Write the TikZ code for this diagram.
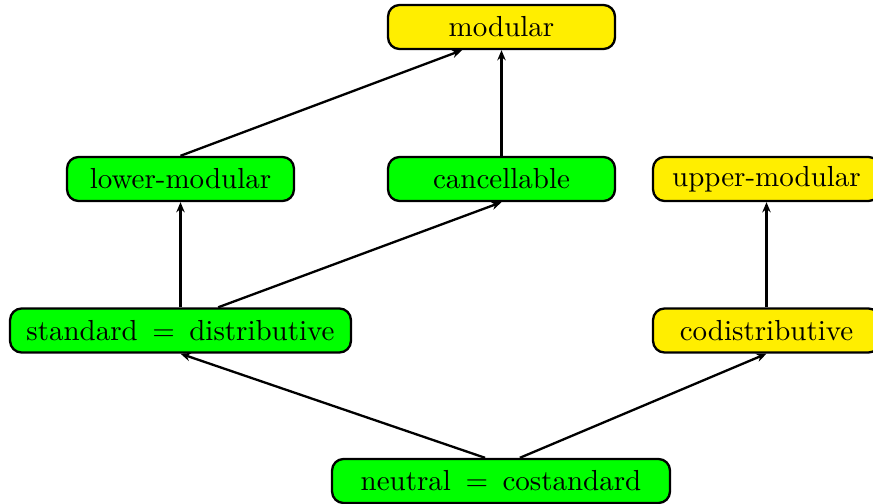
\documentclass[tikz,border=0pt]{standalone}
\usetikzlibrary{arrows.meta}
\definecolor{nodeyellow}{RGB}{255,238,0}
\definecolor{nodegreen}{RGB}{0,255,0}
\tikzset{
  box/.style={draw=black, line width=0.8pt, rounded corners=4pt, minimum height=15.2pt, minimum width=78.3pt, inner sep=0pt, font=\normalsize},
  ybox/.style={box, fill=nodeyellow},
  gbox/.style={box, fill=nodegreen},
  conn/.style={line width=0.8pt, -{Stealth[length=3.5pt,width=2.9pt]}}
}
\begin{document}
\begin{tikzpicture}[x=0.345pt,y=-0.345pt]
\useasboundingbox (0,0) rectangle (873,504);
\node[ybox] (mod) at (501.5,27) {modular};
\node[gbox] (lm) at (180.5,179) {lower-modular};
\node[gbox] (can) at (501.5,179) {cancellable};
\node[ybox] (um) at (766.5,179) {upper-modular};
\node[gbox, minimum width=117.6pt] (std) at (180.5,330.5) {standard\ $\,=\,$\ distributive};
\node[ybox] (cod) at (766.5,330.5) {codistributive};
\node[gbox, minimum width=116.6pt] (neu) at (501,481) {neutral\ $\,=\,$\ costandard};
\draw[conn] (lm.north) -- ([xshift=-13.6pt]mod.south);
\draw[conn] (can.north) -- (mod.south);
\draw[conn] (std.north) -- (lm.south);
\draw[conn] ([xshift=13pt]std.north) -- (can.south);
\draw[conn] (cod.north) -- (um.south);
\draw[conn] ([xshift=-5.5pt]neu.north) -- (std.south);
\draw[conn] ([xshift=6.5pt]neu.north) -- (cod.south);
\end{tikzpicture}
\end{document}
